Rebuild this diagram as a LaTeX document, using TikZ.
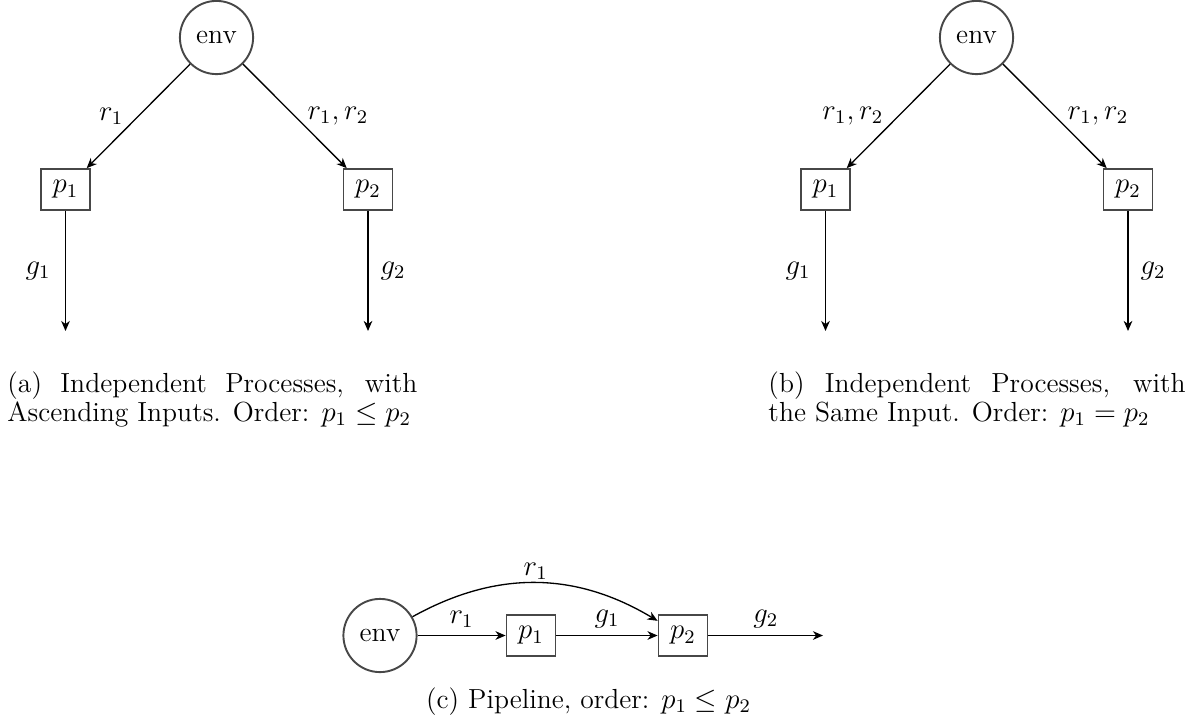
\documentclass[tikz,border=0pt]{standalone}
\usetikzlibrary{arrows.meta}
\begin{document}
\begin{tikzpicture}[x=0.41667pt,y=-0.41667pt,
  every node/.style={font=\fontsize{11.5}{12}\selectfont},
  envnode/.style={circle,draw=black!72,line width=0.8pt,minimum size=30.5pt,inner sep=0pt},
  procnode/.style={rectangle,draw=black!72,line width=0.8pt,minimum width=20.4pt,minimum height=17pt,inner sep=0pt},
  flow/.style={-{Stealth[length=4.2pt,width=3.6pt,inset=1.3pt]},line width=0.55pt},
  lbl/.style={inner sep=1pt},
  captext/.style={inner sep=0pt,anchor=base west}]
\useasboundingbox (0,0) rectangle (1191,727);

% (a)
\node[envnode] (envA) at (216.5,37.5) {env};
\node[procnode] (pA1) at (65.5,189.5) {$p_1$};
\node[procnode] (pA2) at (368,189.5) {$p_2$};
\coordinate (oA1) at (65.5,331);
\coordinate (oA2) at (368,331);
\draw[flow] (envA) -- node[lbl,midway,left=5pt]{$r_1$} (pA1);
\draw[flow] (envA) -- node[lbl,midway,right=4pt]{$r_1, r_2$} (pA2);
\draw[flow] (pA1) -- node[lbl,midway,left=5pt]{$g_1$} (oA1);
\draw[flow] (pA2) -- node[lbl,midway,right=4pt]{$g_2$} (oA2);
\node[captext] (capA1) at (7,392) {\makebox[170.8pt][s]{(a) Independent Processes, with}};
\node[captext] (capA2) at (7,421) {Ascending Inputs. Order: $p_1 \leq p_2$};

% (b)
\node[envnode] (envB) at (976.5,37.5) {env};
\node[procnode] (pB1) at (825.5,189.5) {$p_1$};
\node[procnode] (pB2) at (1128,189.5) {$p_2$};
\coordinate (oB1) at (825.5,331);
\coordinate (oB2) at (1128,331);
\draw[flow] (envB) -- node[lbl,midway,left=5pt]{$r_1, r_2$} (pB1);
\draw[flow] (envB) -- node[lbl,midway,right=4pt]{$r_1, r_2$} (pB2);
\draw[flow] (pB1) -- node[lbl,midway,left=5pt]{$g_1$} (oB1);
\draw[flow] (pB2) -- node[lbl,midway,right=4pt]{$g_2$} (oB2);
\node[captext] (capB1) at (768,392) {\makebox[173.8pt][s]{(b) Independent Processes, with}};
\node[captext] (capB2) at (768,421) {the Same Input. Order: $p_1 = p_2$};

% (c)
\node[envnode] (envC) at (380,635.5) {env};
\node[procnode] (pC1) at (531,635.5) {$p_1$};
\node[procnode] (pC2) at (683,635.5) {$p_2$};
\coordinate (oC) at (823,635.5);
\draw[flow] (envC) -- node[lbl,midway,above=2pt]{$r_1$} (pC1);
\draw[flow] (pC1) -- node[lbl,midway,above=2pt]{$g_1$} (pC2);
\draw[flow] (pC2) -- node[lbl,midway,above=2pt]{$g_2$} (oC);
\draw[flow] (envC) to[bend left=30] node[lbl,midway,above=0pt]{$r_1$} (pC2);
\node[inner sep=0pt,anchor=base] (capC) at (588.5,708) {(c) Pipeline, order: $p_1 \leq p_2$};
\end{tikzpicture}
\end{document}
